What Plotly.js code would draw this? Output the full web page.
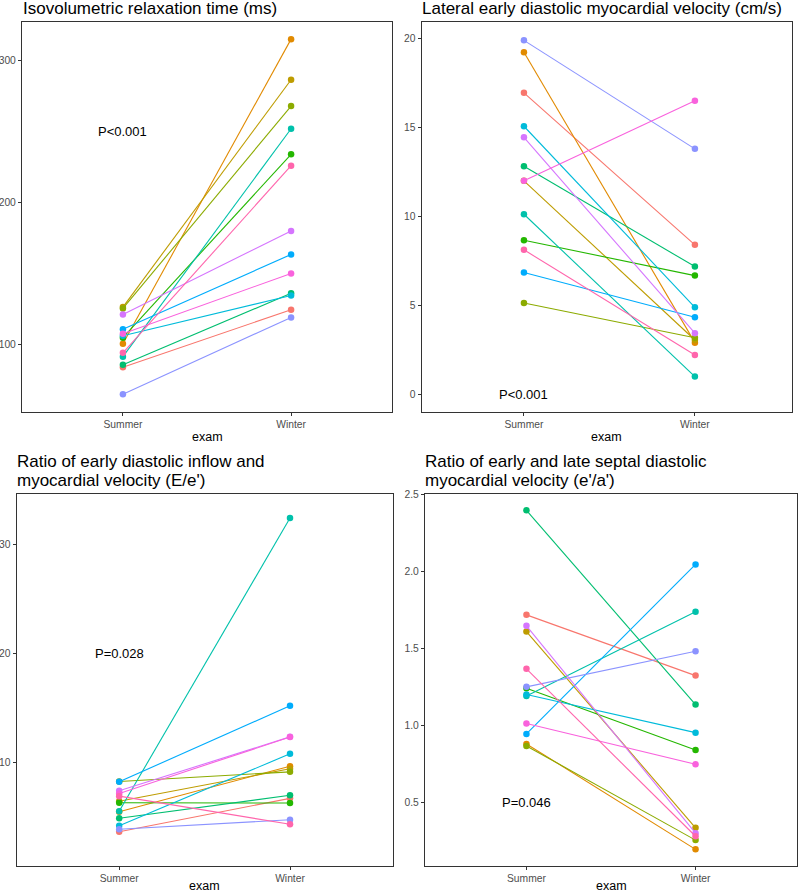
<!DOCTYPE html>
<html>
<head>
<meta charset="utf-8">
<script src="https://cdn.plot.ly/plotly-3.0.1.min.js"></script>
<style>
html,body{margin:0;padding:0;background:#ffffff;}
#chart{width:798px;height:894px;}
</style>
</head>
<body>
<div id="chart"></div>
<script>
// ---------------- DATA ----------------
const exams = ['Summer', 'Winter'];
const subjects = ['S1','S2','S3','S4','S5','S6','S7','S8','S9','S10','S11','S12','S13'];

const panelTitles = [
  ['Isovolumetric relaxation time (ms)'],
  ['Lateral early diastolic myocardial velocity (cm/s)'],
  ['Ratio of early diastolic inflow and', "myocardial velocity (E/e')"],
  ['Ratio of early and late septal diastolic', "myocardial velocity (e'/a')"]
];
const pLabels = ['P<0.001', 'P<0.001', 'P=0.028', 'P=0.046'];
const pLabelY = [250, 0, 20, 0.5];

// Isovolumetric relaxation time (ms)
const ivrtSummer = [83.8, 100.4, 126.3, 125.3, 104.7, 85.6, 91.3, 106.0, 110.6, 64.8, 121.1, 107.5, 94.0];
const ivrtWinter = [124.4, 315.2, 286.6, 268.0, 234.0, 136.0, 252.0, 134.5, 163.4, 119.0, 180.0, 150.0, 226.0];

// Lateral early diastolic myocardial velocity (cm/s)
const latSummer = [16.95, 19.23, 12.0, 5.13, 8.66, 12.82, 10.12, 15.07, 6.84, 19.9, 14.45, 12.0, 8.12];
const latWinter = [8.4, 2.9, 3.05, 3.18, 6.67, 7.18, 0.99, 4.89, 4.33, 13.8, 3.43, 16.5, 2.21];

// E/e'
const eeSummer = [3.62, 5.45, 6.42, 8.23, 6.27, 4.85, 5.5, 4.17, 8.2, 3.84, 7.37, 7.13, 6.88];
const eeWinter = [6.68, 9.63, 9.39, 9.11, 6.25, 6.96, 32.4, 10.76, 15.17, 4.72, 12.32, 12.3, 4.3];

// e'/a'
const eaSummer = [1.716, 0.879, 1.608, 0.866, 1.24, 2.394, 1.19, 1.20, 0.944, 1.249, 1.645, 1.011, 1.366];
const eaWinter = [1.322, 0.195, 0.335, 0.255, 0.84, 1.134, 1.736, 0.952, 2.043, 1.48, 0.30, 0.747, 0.28];

const yTicks = [[100, 200, 300], [0, 5, 10, 15, 20], [10, 20, 30], [0.5, 1.0, 1.5, 2.0, 2.5]];

// ---------------- STYLE / LAYOUT ----------------
const W = 798, H = 894;
const FONT = 'Liberation Sans, Arial, Helvetica, sans-serif';

// ggplot2 default hue palette: hcl(h, c = 100, l = 65)
function hcl(h, c, l) {
  const Xn = 95.047, Yn = 100, Zn = 108.883;
  const hr = h * Math.PI / 180;
  const U = c * Math.cos(hr), V = c * Math.sin(hr);
  const Y = Yn * (l > 8 ? Math.pow((l + 16) / 116, 3) : l / 903.3);
  const den = Xn + 15 * Yn + 3 * Zn;
  const un = 4 * Xn / den, vn = 9 * Yn / den;
  const u = U / (13 * l) + un, v = V / (13 * l) + vn;
  const X = 9 * Y * u / (4 * v);
  const Z = 3 * Y / v - 5 * Y - X / 3;
  const x = X / 100, y = Y / 100, z = Z / 100;
  const r = 3.240479 * x - 1.537150 * y - 0.498535 * z;
  const g = -0.969256 * x + 1.875992 * y + 0.041556 * z;
  const b = 0.055648 * x - 0.204043 * y + 1.057311 * z;
  const gam = t => {
    t = t <= 0.0031308 ? 12.92 * t : 1.055 * Math.pow(t, 1 / 2.4) - 0.055;
    return Math.round(Math.max(0, Math.min(1, t)) * 255);
  };
  return 'rgb(' + gam(r) + ',' + gam(g) + ',' + gam(b) + ')';
}
const nS = subjects.length;
const palette = subjects.map((s, i) => hcl(15 + 360 * i / nS, 100, 65));

// panel boxes in pixels: [left, right, top, bottom]
const boxes = [
  [22, 392, 21.7, 412],
  [421.7, 791.5, 21.7, 412],
  [16.7, 392.5, 494, 865.7],
  [425, 797, 494, 865.7]
];
const xRanges = [[-0.6, 1.6], [-0.598, 1.565], [-0.6, 1.6], [-0.6, 1.6]];
const yRanges = [[52.3, 327.5], [-1.0, 20.95], [0.5, 34.6], [0.089, 2.5]];
const titleX = [20.5, 420, 15, 423];
const titleBase = [[15.5], [15.5], [468.5, 487], [468.5, 487]];
const examTop = [428, 428, 877, 877];

const series = [
  [ivrtSummer, ivrtWinter],
  [latSummer, latWinter],
  [eeSummer, eeWinter],
  [eaSummer, eaWinter]
];

const px2x = p => p / W;
const px2y = p => 1 - p / H;

const traces = [];
const layout = {
  width: W, height: H,
  margin: {l: 0, r: 0, t: 0, b: 0},
  paper_bgcolor: '#ffffff',
  plot_bgcolor: '#ffffff',
  showlegend: false,
  font: {family: FONT, color: '#000000'},
  annotations: []
};

series.forEach((pair, p) => {
  const ax = p === 0 ? '' : String(p + 1);
  const [bl, br, bt, bb] = boxes[p];
  subjects.forEach((s, i) => {
    traces.push({
      type: 'scatter',
      mode: 'lines+markers',
      x: exams,
      y: [pair[0][i], pair[1][i]],
      xaxis: 'x' + ax,
      yaxis: 'y' + ax,
      name: s,
      line: {color: palette[i], width: 1.1},
      marker: {color: palette[i], size: 6.5},
      hoverinfo: 'skip',
      cliponaxis: false
    });
  });
  const common = {
    showline: true, mirror: true, linecolor: '#333333', linewidth: 1.1,
    ticks: 'outside', ticklen: 3, tickwidth: 1, tickcolor: '#333333',
    showgrid: false, zeroline: false,
    tickfont: {family: FONT, size: 10.3, color: '#4d4d4d'}
  };
  layout['xaxis' + ax] = Object.assign({}, common, {
    type: 'category',
    categoryorder: 'array', categoryarray: exams,
    domain: [px2x(bl), px2x(br)],
    range: xRanges[p],
    anchor: 'y' + ax,
    fixedrange: true
  });
  layout['yaxis' + ax] = Object.assign({}, common, {
    domain: [px2y(bb), px2y(bt)],
    range: yRanges[p],
    anchor: 'x' + ax,
    tickmode: 'array',
    tickvals: yTicks[p],
    ticktext: yTicks[p].map(v => p === 3 ? v.toFixed(1) : String(v)),
    fixedrange: true
  });
  // panel titles
  panelTitles[p].forEach((line, k) => {
    layout.annotations.push({
      xref: 'paper', yref: 'paper',
      x: px2x(titleX[p]), y: px2y(titleBase[p][k] + 4.6),
      xanchor: 'left', yanchor: 'bottom',
      text: line, showarrow: false,
      font: {family: FONT, size: 17, color: '#000000'}
    });
  });
  // x axis title
  layout.annotations.push({
    xref: 'paper', yref: 'paper',
    x: px2x((bl + br) / 2), y: px2y(examTop[p]),
    xanchor: 'center', yanchor: 'top',
    text: 'exam', showarrow: false,
    font: {family: FONT, size: 12.5, color: '#000000'}
  });
  // p-value label
  layout.annotations.push({
    xref: 'x' + ax, yref: 'y' + ax,
    x: exams[0], y: pLabelY[p],
    xanchor: 'center', yanchor: 'middle',
    text: pLabels[p], showarrow: false,
    font: {family: FONT, size: 13, color: '#000000'}
  });
});

Plotly.newPlot('chart', traces, layout, {displayModeBar: false, staticPlot: true});
</script>
</body>
</html>
